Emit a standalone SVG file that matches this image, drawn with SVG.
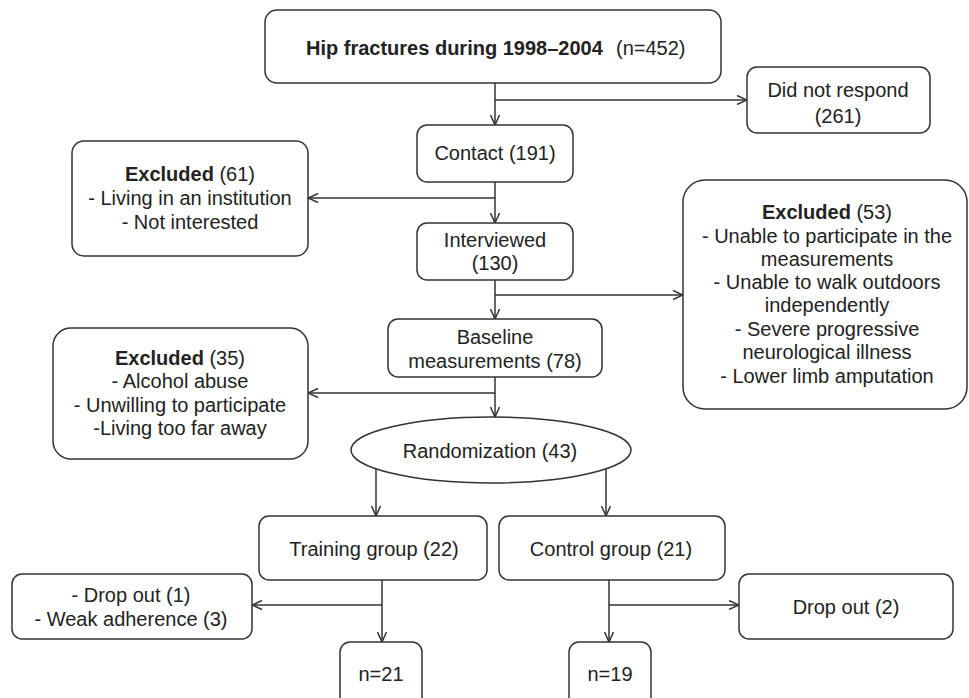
<svg xmlns="http://www.w3.org/2000/svg" width="969" height="698" viewBox="0 0 969 698">
<style>
.box{fill:#fff;stroke:#333;stroke-width:1.5}
.t{font-family:"Liberation Sans",Arial,sans-serif;font-size:20px;fill:#222;text-anchor:middle}
.s{text-anchor:start}
.b{font-weight:bold}
.c{stroke:#333;stroke-width:1.5;fill:none}
</style>
<defs>
<marker id="arr" viewBox="0 0 12 10" refX="11" refY="5" markerWidth="12" markerHeight="10" markerUnits="userSpaceOnUse" orient="auto">
<path d="M1,0.5 L11,5 L1,9.5" fill="none" stroke="#333" stroke-width="1.5"/>
</marker>
</defs>
<rect width="969" height="698" fill="#fff"/>
<g id="connectors">
<line class="c" x1="495" y1="83" x2="495" y2="125" marker-end="url(#arr)"/>
<line class="c" x1="495" y1="100" x2="747" y2="100" marker-end="url(#arr)"/>
<line class="c" x1="495" y1="182" x2="495" y2="223" marker-end="url(#arr)"/>
<line class="c" x1="495" y1="198" x2="308" y2="198" marker-end="url(#arr)"/>
<line class="c" x1="495" y1="280" x2="495" y2="319" marker-end="url(#arr)"/>
<line class="c" x1="495" y1="295" x2="683" y2="295" marker-end="url(#arr)"/>
<line class="c" x1="495" y1="377" x2="495" y2="417" marker-end="url(#arr)"/>
<line class="c" x1="495" y1="393" x2="308" y2="393" marker-end="url(#arr)"/>
<line class="c" x1="376" y1="469" x2="376" y2="516" marker-end="url(#arr)"/>
<line class="c" x1="606" y1="469" x2="606" y2="516" marker-end="url(#arr)"/>
<line class="c" x1="382" y1="580" x2="382" y2="642" marker-end="url(#arr)"/>
<line class="c" x1="382" y1="605" x2="252" y2="605" marker-end="url(#arr)"/>
<line class="c" x1="609" y1="580" x2="609" y2="642" marker-end="url(#arr)"/>
<line class="c" x1="609" y1="605" x2="739" y2="605" marker-end="url(#arr)"/>
</g>
<g id="hip">
<rect class="box" x="265" y="10" width="456" height="73" rx="12"/>
<text class="t s" y="55"><tspan x="306" class="b">Hip fractures during 1998–2004</tspan><tspan x="616">(n=452)</tspan></text>
</g>
<g id="norespond">
<rect class="box" x="747" y="67" width="183" height="66" rx="10"/>
<text class="t" x="838" y="97">Did not respond</text>
<text class="t" x="838" y="123">(261)</text>
</g>
<g id="contact">
<rect class="box" x="417" y="125" width="156" height="57" rx="10"/>
<text class="t" x="495" y="160">Contact (191)</text>
</g>
<g id="excluded61">
<rect class="box" x="72" y="141" width="236" height="115" rx="12"/>
<text class="t" x="190" y="181"><tspan class="b">Excluded</tspan> (61)</text>
<text class="t" x="190" y="205">- Living in an institution</text>
<text class="t" x="190" y="229">- Not interested</text>
</g>
<g id="interviewed">
<rect class="box" x="417" y="223" width="156" height="57" rx="10"/>
<text class="t" x="495" y="247">Interviewed</text>
<text class="t" x="495" y="270">(130)</text>
</g>
<g id="excluded53">
<rect class="box" x="683" y="180" width="284" height="229" rx="22"/>
<text class="t" x="827" y="219"><tspan class="b">Excluded</tspan> (53)</text>
<text class="t" x="827" y="243">- Unable to participate in the</text>
<text class="t" x="827" y="266">measurements</text>
<text class="t" x="827" y="289">- Unable to walk outdoors</text>
<text class="t" x="827" y="312">independently</text>
<text class="t" x="827" y="336">- Severe progressive</text>
<text class="t" x="827" y="359">neurological illness</text>
<text class="t" x="827" y="383">- Lower limb amputation</text>
</g>
<g id="baseline">
<rect class="box" x="388" y="319" width="214" height="58" rx="10"/>
<text class="t" x="495" y="344">Baseline</text>
<text class="t" x="495" y="368">measurements (78)</text>
</g>
<g id="excluded35">
<rect class="box" x="53" y="328" width="255" height="131" rx="18"/>
<text class="t" x="180" y="365"><tspan class="b">Excluded</tspan> (35)</text>
<text class="t" x="180" y="388">- Alcohol abuse</text>
<text class="t" x="180" y="412">- Unwilling to participate</text>
<text class="t" x="180" y="435">-Living too far away</text>
</g>
<g id="randomization">
<ellipse class="box" cx="491" cy="450" rx="140" ry="33"/>
<text class="t" x="490" y="458">Randomization (43)</text>
</g>
<g id="training">
<rect class="box" x="259" y="516" width="228" height="64" rx="10"/>
<text class="t" x="374" y="556">Training group (22)</text>
</g>
<g id="control">
<rect class="box" x="499" y="516" width="226" height="64" rx="10"/>
<text class="t" x="611" y="556">Control group (21)</text>
</g>
<g id="dropout1">
<rect class="box" x="12" y="574" width="240" height="65" rx="10"/>
<text class="t" x="131" y="602">- Drop out (1)</text>
<text class="t" x="131" y="626">- Weak adherence (3)</text>
</g>
<g id="dropout2">
<rect class="box" x="739" y="574" width="214" height="65" rx="10"/>
<text class="t" x="846" y="614">Drop out (2)</text>
</g>
<g id="n21">
<rect class="box" x="340" y="642" width="82" height="70" rx="10"/>
<text class="t" x="381" y="681">n=21</text>
</g>
<g id="n19">
<rect class="box" x="569" y="642" width="82" height="70" rx="10"/>
<text class="t" x="610" y="681">n=19</text>
</g>
</svg>
